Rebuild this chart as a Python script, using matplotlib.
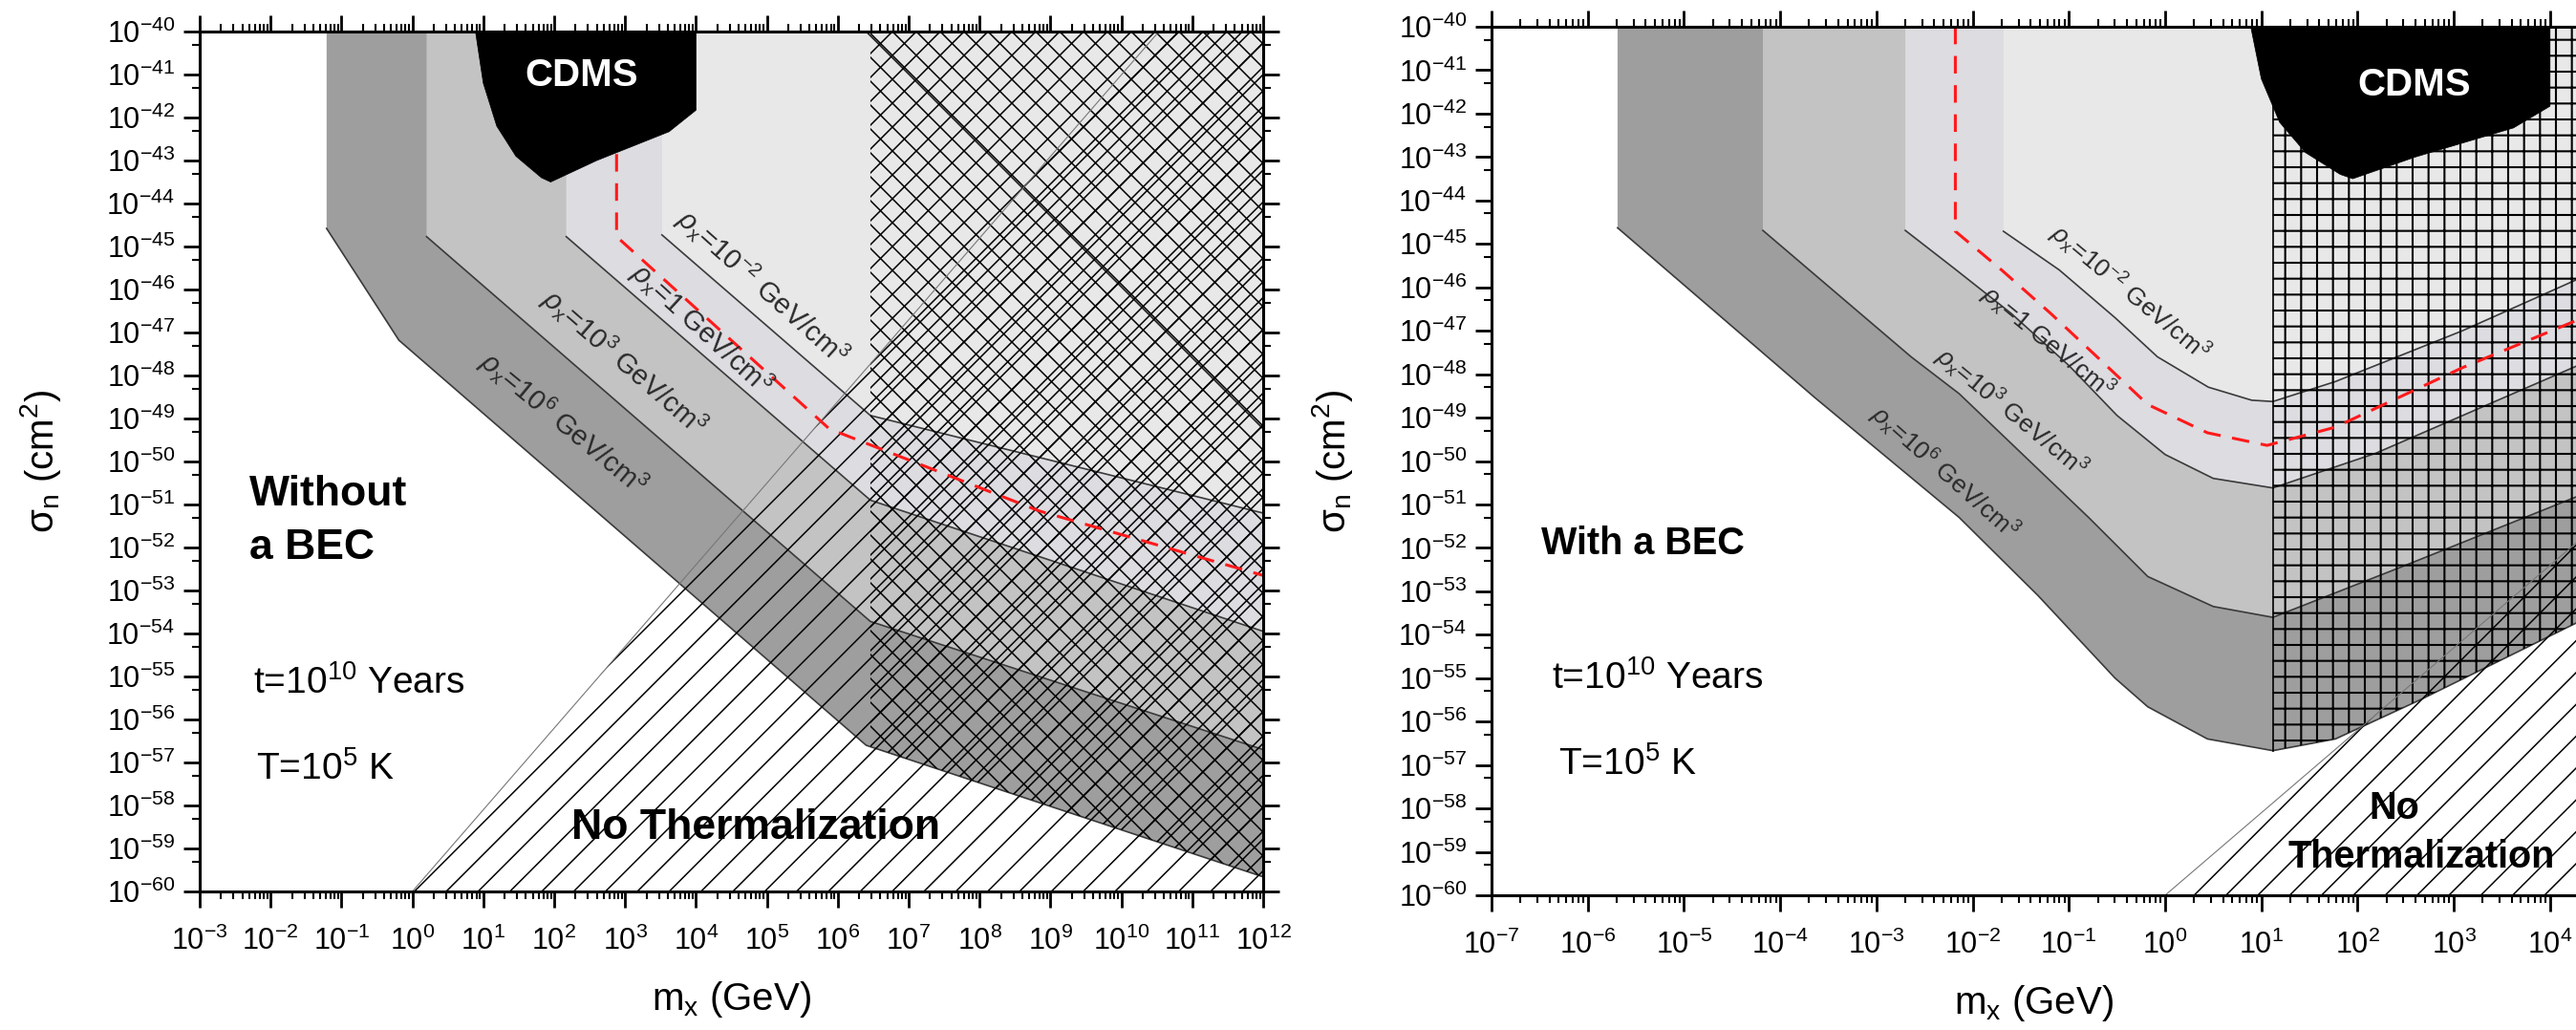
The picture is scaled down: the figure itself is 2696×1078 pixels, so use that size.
import numpy as np
import matplotlib.pyplot as plt
from matplotlib.collections import LineCollection
from matplotlib.ticker import LogLocator, FixedLocator, FuncFormatter, NullFormatter

plt.rcParams['font.family'] = 'Liberation Sans'
plt.rcParams['mathtext.fontset'] = 'custom'
plt.rcParams['mathtext.rm'] = 'Liberation Sans'
plt.rcParams['mathtext.it'] = 'Liberation Sans:italic'
plt.rcParams['mathtext.bf'] = 'Liberation Sans:bold'
plt.rcParams['hatch.linewidth'] = 1.1

## data: log10(m_x / GeV) and log10(sigma_n / cm^2)

# left panel, without a BEC
L_rho6_m = [-1.21, -0.19, 6.40, 12.0]
L_rho6_s = [-44.58, -47.18, -56.6, -59.66]
L_rho3_m = [0.20, 6.46, 12.0]
L_rho3_s = [-44.77, -53.72, -56.7]
L_rho0_m = [2.17, 6.46, 12.0]
L_rho0_s = [-44.77, -50.9, -53.95]
L_rhom2_m = [3.52, 6.46, 12.0]
L_rhom2_s = [-44.73, -48.93, -51.2]
L_red_m = [2.88, 2.88, 5.88, 8.84, 12.0]
L_red_s = [-42.85, -44.77, -49.24, -51.15, -52.65]
L_extra_m = [6.40, 12.0]
L_extra_s = [-40.0, -49.24]
L_cross_edge = 6.46

# right panel, with a BEC
R_rho6_m = [-5.69, -3.64, -2.14, -1.32, -0.52, -0.18, 0.44, 1.12, 1.77, 2.65, 4.3]
R_rho6_s = [-44.63, -48.54, -51.3, -53.1, -55.0, -55.66, -56.4, -56.67, -56.4, -55.5, -53.7]
R_rho3_m = [-4.18, -2.64, -2.14, -0.79, -0.18, 0.5, 1.12, 2.5, 4.3]
R_rho3_s = [-44.69, -47.6, -48.45, -51.31, -52.66, -53.35, -53.6, -52.4, -50.8]
R_rho0_m = [-2.70, -2.2, -1.6, -1.0, -0.5, 0.0, 0.5, 1.12, 2.19, 4.3]
R_rho0_s = [-44.69, -45.55, -46.6, -47.8, -48.95, -49.85, -50.4, -50.62, -49.82, -47.79]
R_rhom2_m = [-1.68, -1.1, -0.52, -0.08, 0.45, 0.9, 1.12, 1.77, 3.09, 4.3]
R_rhom2_s = [-44.71, -45.6, -46.7, -47.6, -48.3, -48.6, -48.63, -48.17, -47.0, -45.8]
R_red_m = [-2.18, -2.18, -1.7, -1.19, -0.66, -0.18, 0.44, 1.06, 1.77, 3.09, 4.3]
R_red_s = [-40.0, -44.71, -45.6, -46.6, -47.7, -48.7, -49.35, -49.64, -49.22, -47.85, -46.74]
R_grid_edge = 1.12

# CDMS excluded region (same in both panels)
cdms_m = [0.89, 1.0, 1.19, 1.46, 1.82, 1.95, 2.6, 3.62, 4.0, 4.0]
cdms_s = [-40.0, -41.2, -42.2, -42.9, -43.4, -43.5, -43.0, -42.33, -41.83, -40.0]

# no thermalization boundary
nt_m = [0.0, 10.53]
nt_s = [-60.0, -40.0]

band_colors = ['#9e9e9e', '#c3c3c3', '#dcdce1', '#e8e8e8']
rho_texts = ['$\\rho_\\mathregular{x}$=10$^\\mathregular{6}$ GeV/cm$^\\mathregular{3}$',
             '$\\rho_\\mathregular{x}$=10$^\\mathregular{3}$ GeV/cm$^\\mathregular{3}$',
             '$\\rho_\\mathregular{x}$=1 GeV/cm$^\\mathregular{3}$',
             '$\\rho_\\mathregular{x}$=10$^\\mathregular{-2}$ GeV/cm$^\\mathregular{3}$']

W, H = 2696.0, 1078.0


def e(v):
    return 10.0 ** np.asarray(v, dtype=float)


def band(ax, m, s, color):
    px = np.r_[m[0], m, m[-1]]
    py = np.r_[-39.0, s, -39.0]
    ax.fill(e(px), e(py), facecolor=color, edgecolor='none', zorder=1)
    ax.plot(e(m), e(s), color='#3a3a3a', lw=1.2, zorder=2)


def above_curve(m_edge, cm, cs):
    # region right of m_edge and above the curve (cm, cs)
    cm = np.asarray(cm)
    cs = np.asarray(cs)
    s_edge = np.interp(m_edge, cm, cs)
    keep = cm > m_edge
    px = np.r_[m_edge, m_edge, cm[keep], cm[keep][-1]]
    py = np.r_[-39.0, s_edge, cs[keep], -39.0]
    return e(px), e(py)


def crosshatch(ax, px, py, step_px, lw):
    patch = ax.fill(px, py, facecolor='none', edgecolor='none', zorder=3)[0]
    bb = ax.get_position()
    wpx, hpx = bb.width * W, bb.height * H
    r = hpx / wpx
    n = int((1 + r) * wpx / step_px) + 2
    segs = []
    for k in range(n):
        c = -r + k * step_px / wpx
        segs.append([(c, 0), (c + r, 1)])
        segs.append([(c, 1), (c + r, 0)])
    lc = LineCollection(segs, transform=ax.transAxes, colors='k', linewidths=lw, zorder=3)
    lc.set_clip_path(patch)
    ax.add_collection(lc, autolim=False)


def nothermal(ax):
    px = [nt_m[0], nt_m[1], 14.0, 14.0]
    py = [nt_s[0], nt_s[1], nt_s[1], nt_s[0]]
    ax.fill(e(px), e(py), facecolor='none', edgecolor='k', lw=0, hatch='/', zorder=3)
    ax.plot(e(nt_m), e(nt_s), color='#777777', lw=0.8, zorder=3)


def cdms(ax, xy):
    ax.fill(e(cdms_m), e(cdms_s), facecolor='black', edgecolor='black', lw=0.5, zorder=5)
    ax.text(e(xy[0]), e(xy[1]), 'CDMS', color='white', fontsize=29, fontweight='bold',
            ha='center', va='center', zorder=6)


def style(ax, xlo, xhi, right_spine=True):
    ax.set_xscale('log')
    ax.set_yscale('log')
    ax.set_xlim(e(xlo), e(xhi))
    ax.set_ylim(1e-60, 1e-40)
    ax.xaxis.set_major_locator(LogLocator(base=10, numticks=40))
    ax.xaxis.set_minor_locator(LogLocator(base=10, subs=np.arange(2, 10), numticks=40))
    ax.yaxis.set_major_locator(LogLocator(base=10, numticks=40))
    ax.yaxis.set_minor_locator(FixedLocator(5 * e(np.arange(-61, -39))))
    fmt = FuncFormatter(lambda v, p: '$\\mathregular{10^{%d}}$' % int(round(np.log10(v))))
    ax.xaxis.set_major_formatter(fmt)
    ax.yaxis.set_major_formatter(fmt)
    ax.xaxis.set_minor_formatter(NullFormatter())
    ax.yaxis.set_minor_formatter(NullFormatter())
    ax.tick_params(which='both', direction='out', top=True, right=right_spine,
                   labeltop=False, labelright=False)
    ax.tick_params(which='major', length=12.5, width=2.0, labelsize=22)
    ax.tick_params(which='minor', length=6, width=1.5)
    ax.tick_params(axis='x', which='major', pad=14)
    ax.tick_params(axis='y', which='major', pad=6)
    for sp in ax.spines.values():
        sp.set_linewidth(2.2)
        sp.set_zorder(10)
    if not right_spine:
        ax.spines['right'].set_visible(False)
    ax.set_xlabel('m$_\\mathregular{x}$ (GeV)', fontsize=29, labelpad=17)
    ax.set_ylabel('σ$_\\mathregular{n}$ (cm$^\\mathregular{2}$)', fontsize=29, labelpad=33)


fig = plt.figure(figsize=(26.96, 10.78), dpi=100)
axL = fig.add_axes([209 / W, 1 - 933 / H, (1322 - 209) / W, (933 - 33) / H])
axR = fig.add_axes([1561 / W, 1 - 937 / H, (2696 - 1561) / W, (937 - 28) / H])

# ---------------- left panel ----------------
ax = axL
for (m, s), c in zip([(L_rho6_m, L_rho6_s), (L_rho3_m, L_rho3_s),
                      (L_rho0_m, L_rho0_s), (L_rhom2_m, L_rhom2_s)], band_colors):
    band(ax, m, s, c)
ax.plot(e(L_extra_m), e(L_extra_s), color='#222222', lw=1.2, zorder=2)
cx, cy = above_curve(L_cross_edge, L_rho6_m, L_rho6_s)
crosshatch(ax, cx, cy, 25, 1.1)
nothermal(ax)
ax.plot(e(L_red_m), e(L_red_s), color='#ff1a1a', lw=2.2, ls=(0, (6, 4)), zorder=4)
cdms(ax, (2.39, -41.03))

lab_xy = [(2.13, -49.12, -39.6), (2.98, -47.71, -41), (4.07, -46.91, -42.5), (4.94, -45.96, -41.8)]
for (x, y, r), t in zip(lab_xy, rho_texts):
    ax.text(e(x), e(y), t, fontsize=21, rotation=r, rotation_mode='anchor',
            ha='center', va='center', color='#2a2a2a', zorder=6)

ax.text(e(-2.3), e(-51.03), 'Without', fontsize=32, fontweight='bold', va='baseline', zorder=6)
ax.text(e(-2.3), e(-52.27), 'a BEC', fontsize=32, fontweight='bold', va='baseline', zorder=6)
ax.text(e(-2.24), e(-55.4), 't=10$^\\mathregular{10}$ Years', fontsize=28, va='baseline', zorder=6)
ax.text(e(-2.2), e(-57.4), 'T=10$^\\mathregular{5}$ K', fontsize=28, va='baseline', zorder=6)
ax.text(e(2.24), e(-58.78), 'No Thermalization', fontsize=32, fontweight='bold',
        va='baseline', zorder=6)
style(ax, -3, 12)

# ---------------- right panel ----------------
ax = axR
for (m, s), c in zip([(R_rho6_m, R_rho6_s), (R_rho3_m, R_rho3_s),
                      (R_rho0_m, R_rho0_s), (R_rhom2_m, R_rhom2_s)], band_colors):
    band(ax, m, s, c)
gx, gy = above_curve(R_grid_edge, R_rho6_m, R_rho6_s)
with plt.rc_context({'hatch.linewidth': 1.5}):
    ax.fill(gx, gy, facecolor='none', edgecolor='k', lw=0, hatch='+', zorder=3)
ax.plot([gx[1], gx[1]], [gy[0], gy[1]], color='k', lw=1.2, zorder=3)
nothermal(ax)
ax.plot(e(R_red_m), e(R_red_s), color='#ff1a1a', lw=2.2, ls=(0, (6, 4)), zorder=4)
cdms(ax, (2.59, -41.35))

lab_xy = [(-2.29, -50.27, -41.6), (-1.6, -48.9, -39.6), (-1.22, -47.27, -39.4), (-0.37, -46.14, -39.8)]
for (x, y, r), t in zip(lab_xy, rho_texts):
    ax.text(e(x), e(y), t, fontsize=19, rotation=r, rotation_mode='anchor',
            ha='center', va='center', color='#2a2a2a', zorder=6)

ax.text(e(-6.48), e(-52.14), 'With a BEC', fontsize=28.5, fontweight='bold', va='baseline', zorder=6)
ax.text(e(-6.37), e(-55.24), 't=10$^\\mathregular{10}$ Years', fontsize=28, va='baseline', zorder=6)
ax.text(e(-6.3), e(-57.23), 'T=10$^\\mathregular{5}$ K', fontsize=28, va='baseline', zorder=6)
ax.text(e(2.385), e(-58.24), 'No', fontsize=28.5, fontweight='bold', ha='center',
        va='baseline', zorder=6)
ax.text(e(2.66), e(-59.37), 'Thermalization', fontsize=28.5, fontweight='bold', ha='center',
        va='baseline', zorder=6)
style(ax, -7, 4.27, right_spine=False)

fig.savefig('out.png', dpi=100)
